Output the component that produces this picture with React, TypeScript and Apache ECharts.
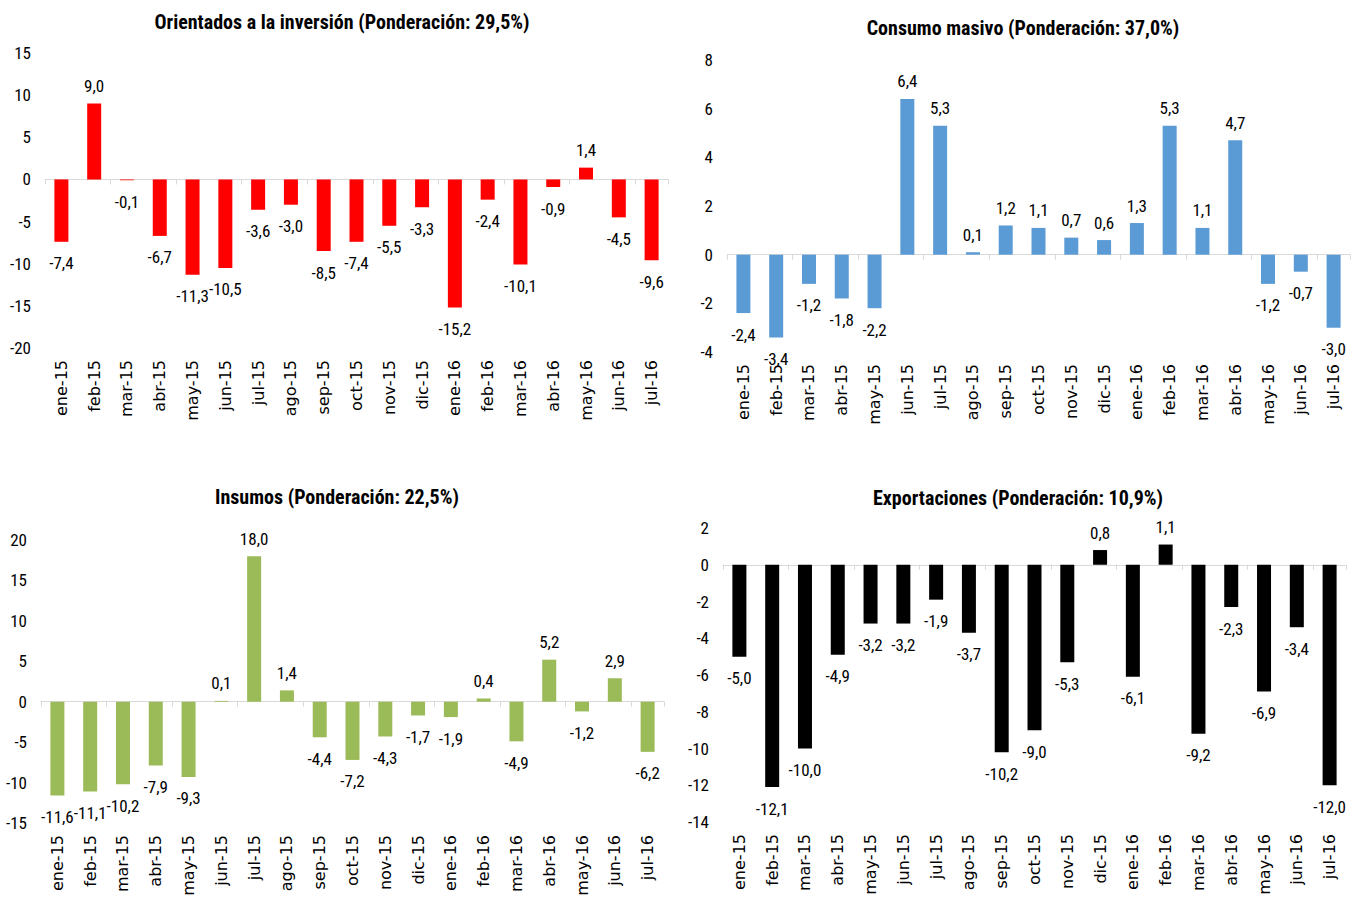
import React, { useEffect, useRef } from "react";
import * as echarts from "echarts";

const categories = [
  "ene-15", "feb-15", "mar-15", "abr-15", "may-15", "jun-15", "jul-15", "ago-15", "sep-15",
  "oct-15", "nov-15", "dic-15", "ene-16", "feb-16", "mar-16", "abr-16", "may-16", "jun-16", "jul-16",
];

const inversion = [-7.4, 9.0, -0.1, -6.7, -11.3, -10.5, -3.6, -3.0, -8.5, -7.4, -5.5, -3.3, -15.2, -2.4, -10.1, -0.9, 1.4, -4.5, -9.6];
const consumo = [-2.4, -3.4, -1.2, -1.8, -2.2, 6.4, 5.3, 0.1, 1.2, 1.1, 0.7, 0.6, 1.3, 5.3, 1.1, 4.7, -1.2, -0.7, -3.0];
const insumos = [-11.6, -11.1, -10.2, -7.9, -9.3, 0.1, 18.0, 1.4, -4.4, -7.2, -4.3, -1.7, -1.9, 0.4, -4.9, 5.2, -1.2, 2.9, -6.2];
const exportaciones = [-5.0, -12.1, -10.0, -4.9, -3.2, -3.2, -1.9, -3.7, -10.2, -9.0, -5.3, 0.8, -6.1, 1.1, -9.2, -2.3, -6.9, -3.4, -12.0];

const titles = [
  "Orientados a la inversión (Ponderación: 29,5%)",
  "Consumo masivo (Ponderación: 37,0%)",
  "Insumos (Ponderación: 22,5%)",
  "Exportaciones (Ponderación: 10,9%)",
];

const NARROW = '"Liberation Sans Narrow", "Arial Narrow", "Roboto Condensed", sans-serif';
const CAT_FONT = '"DejaVu Sans", "Open Sans", sans-serif';

export default function App() {
  const ref = useRef<HTMLDivElement>(null);

  useEffect(() => {
    if (!ref.current) return;
    const chart = echarts.init(ref.current, null, { renderer: "svg" });

    const panels = [
      { data: inversion, color: "#ff0000", grid: { left: 45, top: 53, width: 623, height: 295 }, min: -20, max: 15, interval: 5, title: { x: 342, y: 22 } },
      { data: consumo, color: "#5b9bd5", grid: { left: 727, top: 60, width: 623, height: 292 }, min: -4, max: 8, interval: 2, title: { x: 1023, y: 28 } },
      { data: insumos, color: "#9bbb59", grid: { left: 41, top: 540, width: 623, height: 283 }, min: -15, max: 20, interval: 5, title: { x: 337, y: 497 } },
      { data: exportaciones, color: "#000000", grid: { left: 723, top: 528, width: 623, height: 294 }, min: -14, max: 2, interval: 2, title: { x: 1018, y: 498 } },
    ];

    const grid: any[] = [];
    const xAxis: any[] = [];
    const yAxis: any[] = [];
    const series: any[] = [];
    const graphic: any[] = [];

    panels.forEach((p, i) => {
      grid.push({ ...p.grid, containLabel: false });
      xAxis.push({
        type: "category",
        gridIndex: i,
        data: categories,
        position: "bottom",
        axisLine: { show: true, onZero: true, lineStyle: { color: "#d9d9d9", width: 1 } },
        axisTick: { show: true, length: 5, lineStyle: { color: "#d9d9d9" } },
        axisLabel: { show: false },
        splitLine: { show: false },
      });
      xAxis.push({
        type: "category",
        gridIndex: i,
        data: categories,
        position: "bottom",
        axisLine: { show: false, onZero: false },
        axisTick: { show: false },
        axisLabel: {
          show: true,
          rotate: 90,
          interval: 0,
          margin: 12,
          color: "#000",
          fontFamily: CAT_FONT,
          fontSize: 16,
        },
        splitLine: { show: false },
      });
      yAxis.push({
        type: "value",
        gridIndex: i,
        min: p.min,
        max: p.max,
        interval: p.interval,
        axisLine: { show: false },
        axisTick: { show: false },
        splitLine: { show: false },
        axisLabel: { color: "#000", fontFamily: NARROW, fontSize: 17, margin: 14 },
      });
      series.push({
        type: "bar",
        xAxisIndex: i * 2,
        yAxisIndex: i,
        barWidth: 14,
        itemStyle: { color: p.color },
        data: p.data.map((v) => ({
          value: v,
          label: v >= 0 ? { position: "top", distance: 9 } : { position: "bottom", distance: 13 },
        })),
        label: {
          show: true,
          color: "#000",
          fontFamily: NARROW,
          fontSize: 17,
          formatter: (d: any) => Number(d.value).toFixed(1).replace(".", ","),
        },
      });
      graphic.push({
        type: "text",
        x: p.title.x,
        y: p.title.y,
        style: {
          text: titles[i],
          align: "center",
          verticalAlign: "middle",
          fontFamily: NARROW,
          fontWeight: "bold",
          fontSize: 20,
          fill: "#000",
        },
      });
    });

    chart.setOption({
      animation: false,
      backgroundColor: "#ffffff",
      grid,
      xAxis,
      yAxis,
      series,
      graphic,
    });

    return () => chart.dispose();
  }, []);

  return (
    <div
      ref={ref}
      style={{ position: "fixed", left: 0, top: 0, width: 1359, height: 899, background: "#fff" }}
    />
  );
}
